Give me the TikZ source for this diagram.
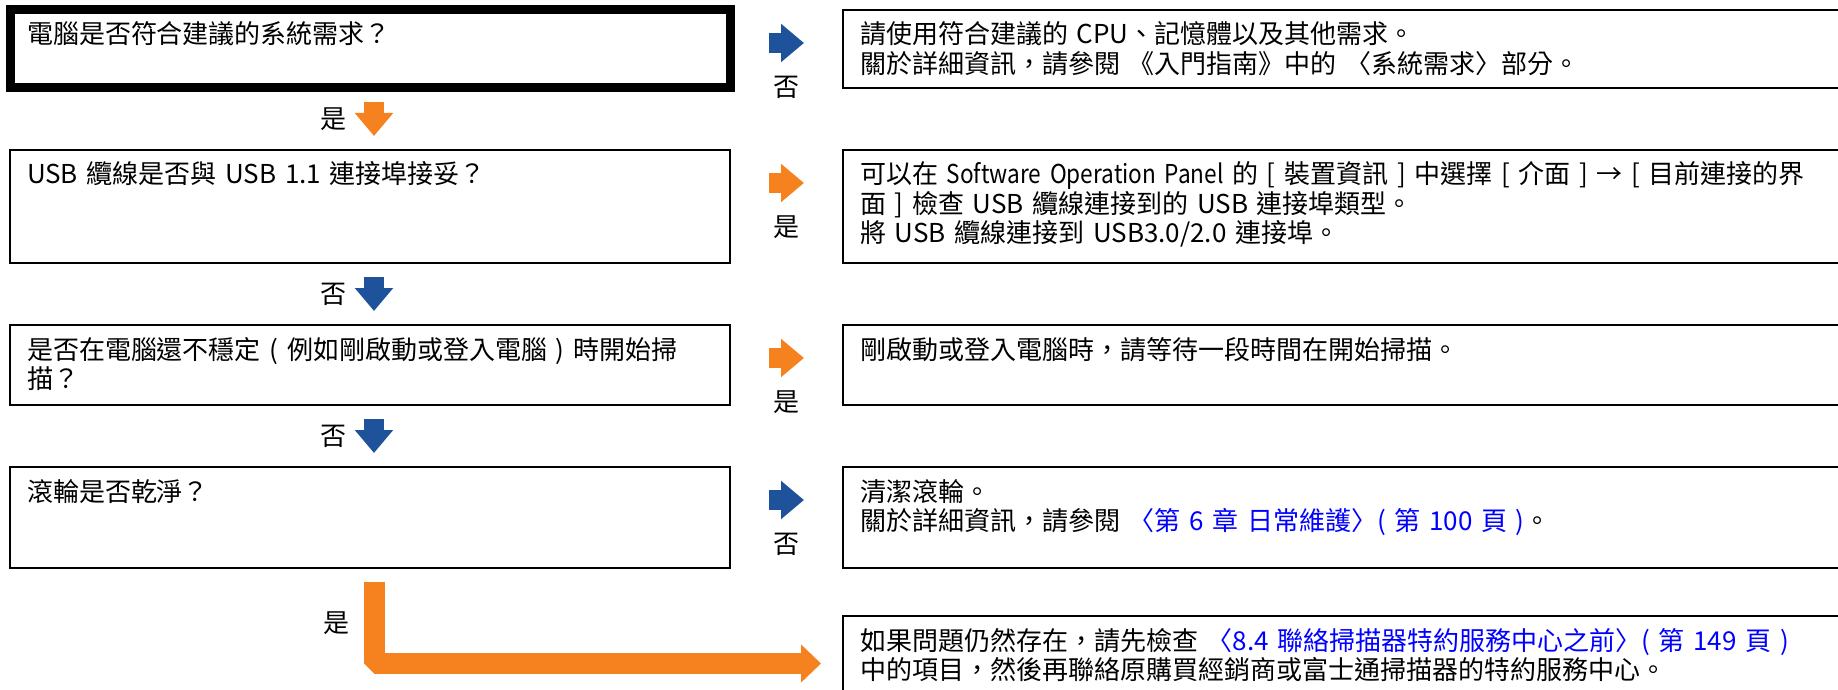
\documentclass[tikz,border=0pt]{standalone}
\usepackage{fontspec}
\setmainfont{Noto Sans CJK TC}
\newfontfamily\narrowlatin{Noto Sans CJK TC}[FakeStretch=0.87]
\usepackage{xcolor}
\usepackage{tikz}
\usetikzlibrary{positioning,arrows.meta}

\definecolor{yesorange}{RGB}{246,130,31}
\definecolor{noblue}{RGB}{30,82,155}
\definecolor{linkblue}{RGB}{0,0,255}
\newcommand\linktext[1]{{\color{linkblue}#1}}

\begin{document}
\begin{tikzpicture}[
  x = 0.5pt, y = -0.5pt,
  node distance = 31pt and 56.5pt, font = \fontsize{13}{14.75}\selectfont,
  qbox/.style   = {rectangle, draw, line width=1pt, outer sep=0pt, align=left, text width=343pt,
                   inner xsep=8.5pt, inner ysep=7pt, text height=10pt, text depth=#1},
  abox/.style   = {qbox=#1, text width=520pt},
  hilite/.style = {line width=4.5pt},
  lbl/.style    = {inner sep=0pt, outer sep=0pt},
  flow/.style   = {line width=10pt, -{Triangle[length=11.5pt, width=18.5pt]}},
  yesarr/.style = {flow, draw=yesorange},
  noarr/.style  = {flow, draw=noblue},
  across/.style = {shorten <=19.5pt, shorten >=19.5pt},
  down/.style   = {shorten <=7pt, shorten >=7pt}
]
\useasboundingbox (0,0) rectangle (1838,690);
\clip (0,0) rectangle (1838,690);

% questions
\node[qbox=15pt, hilite, anchor=north west] (q1) at (10,10) {電腦是否符合建議的系統需求？};
\node[qbox=32.5pt, below=of q1] (q2) {USB 纜線是否與 USB 1.1 連接埠接妥？};
\node[qbox=16pt, below=of q2] (q3) {是否在電腦還不穩定 ( 例如剛啟動或登入電腦 ) 時開始掃\\描？};
\node[qbox=26.5pt, below=of q3] (q4) {滾輪是否乾淨？};

% answers
\node[abox=15pt, right=of q1.north east, anchor=north west] (a1)
  {請使用符合建議的 CPU、記憶體以及其他需求。\\關於詳細資訊，請參閱 《入門指南》中的 〈系統需求〉部分。};
\node[abox=32.5pt, right=of q2.north east, anchor=north west] (a2)
  {可以在 {\narrowlatin Software Operation Panel} 的 [ 裝置資訊 ] 中選擇 [ 介面 ] → [ 目前連接的界\\面 ] 檢查 USB 纜線連接到的 USB 連接埠類型。\\將 USB 纜線連接到 USB3.0/2.0 連接埠。};
\node[abox=16pt, right=of q3.north east, anchor=north west] (a3)
  {剛啟動或登入電腦時，請等待一段時間在開始掃描。};
\node[abox=26.5pt, right=of q4.north east, anchor=north west] (a4)
  {清潔滾輪。\\關於詳細資訊，請參閱 \linktext{〈第 6 章 日常維護〉( 第 100 頁 )}。};
\node[abox=26pt, below=24pt of a4] (a5)
  {如果問題仍然存在，請先檢查 \linktext{〈8.4 聯絡掃描器特約服務中心之前〉( 第 149 頁 )}\\中的項目，然後再聯絡原購買經銷商或富士通掃描器的特約服務中心。};

% right arrows
\draw[noarr, across]  ([yshift=-16.5pt]q1.north east) -- ([yshift=-16.5pt]a1.north west) node[lbl, midway, below=16.5pt] {否};
\draw[yesarr, across] ([yshift=-16.5pt]q2.north east) -- ([yshift=-16.5pt]a2.north west) node[lbl, midway, below=16.5pt] {是};
\draw[yesarr, across] ([yshift=-16.5pt]q3.north east) -- ([yshift=-16.5pt]a3.north west) node[lbl, midway, below=16.5pt] {是};
\draw[noarr, across]  ([yshift=-16.5pt]q4.north east) -- ([yshift=-16.5pt]a4.north west) node[lbl, midway, below=16.5pt] {否};

% down arrows
\draw[yesarr, down] ([xshift=2pt]q1.south) -- ([xshift=2pt]q2.north) node[lbl, midway, left=14pt] {是};
\draw[noarr, down]  ([xshift=2pt]q2.south) -- ([xshift=2pt]q3.north) node[lbl, midway, left=14pt] {否};
\draw[noarr, down]  ([xshift=2pt]q3.south) -- ([xshift=2pt]q4.north) node[lbl, midway, left=14pt] {否};

% last step
\draw[yesarr, line width=10.5pt, line join=bevel, -{Triangle[length=10pt, width=18.5pt]}]
  ([xshift=2pt, yshift=-7pt]q4.south) |- ([xshift=-11pt, yshift=-23.75pt]a5.north west)
  node[lbl, pos=0.25, left=12.5pt] {是};
\end{tikzpicture}
\end{document}
